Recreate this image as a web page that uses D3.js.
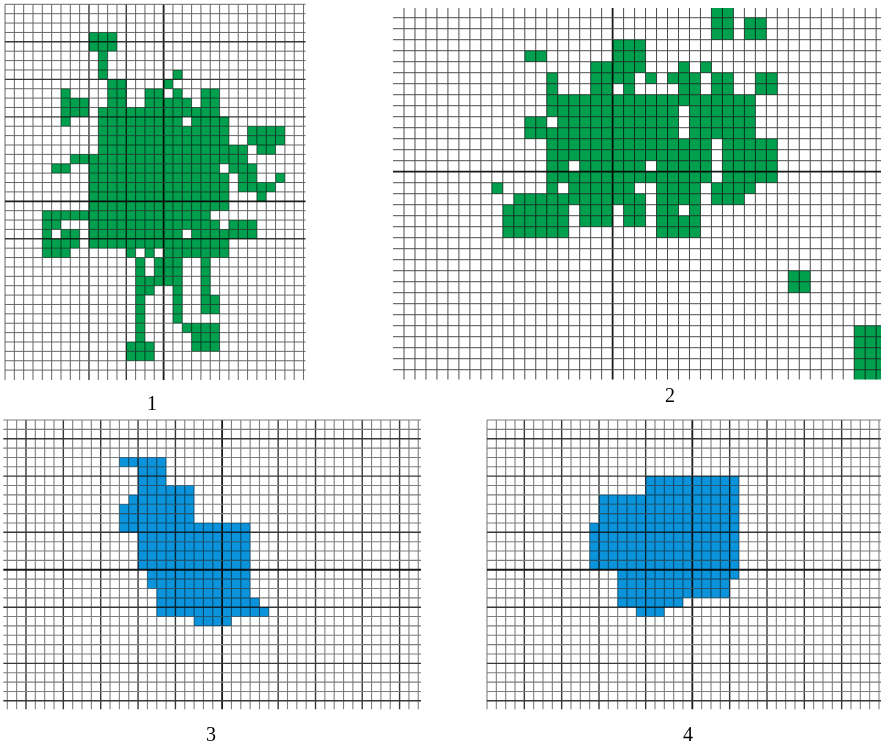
<html>

<head>
    <meta charset="utf-8">
    <title>grid</title>
    <style>
        body { margin: 0; background: #fff; }
    </style>
</head>

<body>
    <script src="https://cdn.jsdelivr.net/npm/d3@7/dist/d3.min.js"></script>
    <script>
        var width = 881;
        var height = 747;

        var labels = ["1", "2", "3", "4"];

        // filled cells, one entry per run: [row, firstCol, lastCol]
        var cells1 = [
            [3, 9, 11], [4, 9, 11], [5, 10, 10], [6, 10, 10], [7, 10, 10], [7, 18, 18],
            [8, 11, 12], [8, 17, 17],
            [9, 6, 6], [9, 11, 12], [9, 15, 16], [9, 18, 18], [9, 21, 22],
            [10, 6, 8], [10, 11, 12], [10, 15, 19], [10, 21, 22],
            [11, 6, 8], [11, 10, 22],
            [12, 6, 6], [12, 10, 18], [12, 20, 23],
            [13, 10, 23], [13, 26, 29], [14, 10, 23], [14, 26, 29],
            [15, 10, 25], [15, 27, 28],
            [16, 7, 25],
            [17, 5, 6], [17, 9, 22], [17, 24, 26],
            [18, 9, 23], [18, 25, 26], [18, 29, 29],
            [19, 9, 23], [19, 25, 28],
            [20, 9, 23], [20, 27, 27],
            [21, 9, 23],
            [22, 4, 21],
            [23, 4, 5], [23, 9, 22], [23, 24, 26],
            [24, 4, 4], [24, 6, 7], [24, 9, 18], [24, 20, 26],
            [25, 4, 7], [25, 9, 23],
            [26, 4, 6], [26, 13, 13], [26, 15, 15], [26, 17, 23],
            [27, 14, 14], [27, 16, 18], [27, 21, 21],
            [28, 14, 14], [28, 16, 18], [28, 21, 21],
            [29, 14, 18], [29, 21, 21],
            [30, 14, 15], [30, 18, 18], [30, 21, 21],
            [31, 14, 14], [31, 18, 18], [31, 21, 22],
            [32, 14, 14], [32, 18, 18], [32, 21, 22],
            [33, 14, 14], [33, 18, 18],
            [34, 14, 14], [34, 19, 22],
            [35, 14, 14], [35, 20, 22],
            [36, 13, 15], [36, 20, 22],
            [37, 13, 15]
        ];

        var cells2 = [
            [0, 29, 30],
            [1, 29, 30], [1, 32, 33],
            [2, 29, 30], [2, 32, 33],
            [3, 20, 22],
            [4, 12, 13], [4, 20, 22],
            [5, 18, 22], [5, 26, 26], [5, 28, 28],
            [6, 14, 14], [6, 18, 21], [6, 23, 23], [6, 25, 27], [6, 29, 30], [6, 33, 34],
            [7, 14, 14], [7, 18, 19], [7, 21, 21], [7, 26, 27], [7, 29, 30], [7, 33, 34],
            [8, 14, 32],
            [9, 14, 25], [9, 27, 32],
            [10, 12, 13], [10, 15, 25], [10, 27, 32],
            [11, 12, 25], [11, 27, 32],
            [12, 14, 28], [12, 30, 34],
            [13, 14, 28], [13, 30, 34],
            [14, 14, 15], [14, 17, 22], [14, 24, 28], [14, 30, 34],
            [15, 14, 28], [15, 30, 34],
            [16, 9, 9], [16, 14, 14], [16, 16, 21], [16, 24, 27], [16, 29, 32],
            [17, 11, 22], [17, 24, 27], [17, 29, 31],
            [18, 10, 15], [18, 17, 19], [18, 21, 22], [18, 24, 25], [18, 27, 27],
            [19, 10, 15], [19, 17, 19], [19, 21, 22], [19, 24, 27],
            [20, 10, 15], [20, 24, 27],
            [24, 36, 37], [25, 36, 37],
            [29, 42, 44], [30, 42, 44], [31, 42, 44], [32, 42, 44], [33, 42, 44]
        ];

        var cells3 = [
            [4, 12, 16], [5, 14, 16], [6, 14, 16],
            [7, 14, 19], [8, 13, 19], [9, 12, 19], [10, 12, 19],
            [11, 12, 25],
            [12, 14, 25], [13, 14, 25], [14, 14, 25], [15, 14, 25],
            [16, 15, 25], [17, 15, 25], [18, 16, 25],
            [19, 16, 26], [20, 16, 27],
            [21, 20, 23]
        ];

        var cells4 = [
            [6, 17, 26], [7, 17, 26],
            [8, 12, 26], [9, 12, 26], [10, 12, 26],
            [11, 11, 26], [12, 11, 26], [13, 11, 26], [14, 11, 26], [15, 11, 26],
            [16, 14, 26], [17, 14, 25], [18, 14, 25],
            [19, 14, 20],
            [20, 16, 18]
        ];

        // sheet layout
        var panels = [
            {
                cells: cells1, color: "#00a04e", x0: 5, y0: 4.3, cw: 9.33, ch: 9.38, cols: 32, rows: 39,
                vFrom: 0, vTo: 32, hFrom: 0, hTo: 39, lineTop: 4.3, lineBottom: 380, lineLeft: 5, lineRight: 305.5,
                clip: [5, 4.3, 305, 380], minor: "#666", minorW: 1,
                darkCols: [9, 13], darkRows: [4, 8, 12, 25], axisCol: 17, axisRow: 21,
                label: labels[0], lx: 152, ly: 410
            },
            {
                cells: cells2, color: "#00a04e", x0: 393.02, y0: 6.7, cw: 10.98, ch: 11, cols: 45, rows: 34,
                vFrom: 1, vTo: 44, hFrom: 1, hTo: 33, lineTop: 8, lineBottom: 379.5, lineLeft: 393, lineRight: 881,
                clip: [393, 8, 881, 379.5], minor: "#4e4e4e", minorW: 1,
                darkCols: [], darkRows: [], axisCol: 20, axisRow: 15,
                label: labels[1], lx: 670, ly: 402
            },
            {
                cells: cells3, color: "#0b94db", x0: 7.3, y0: 420, cw: 9.34, ch: 9.36, cols: 44, rows: 30,
                vFrom: 0, vTo: 44, hFrom: 0, hTo: 30, lineTop: 420, lineBottom: 709.3, lineLeft: 3.3, lineRight: 421,
                clip: [3, 420, 421, 709.3], minor: "#7e7e7e", minorW: 1.1,
                darkCols: [2, 6, 10, 14, 18, 29, 33, 38, 42], darkRows: [2, 6, 12, 20, 26, 30], axisCol: 23, axisRow: 16,
                label: labels[2], lx: 211, ly: 741
            },
            {
                cells: cells4, color: "#0b94db", x0: 487, y0: 420, cw: 9.333, ch: 9.36, cols: 42, rows: 30,
                vFrom: 0, vTo: 42, hFrom: 0, hTo: 30, lineTop: 420, lineBottom: 709.3, lineLeft: 487, lineRight: 881.5,
                clip: [487, 420, 881, 709.3], minor: "#7e7e7e", minorW: 1.1,
                darkCols: [4, 8, 12, 17, 26, 30, 34, 38], darkRows: [2, 6, 12, 20, 26, 30], axisCol: 22, axisRow: 16,
                label: labels[3], lx: 688, ly: 741
            }
        ];

        var svg = d3.select("body")
            .append("svg")
            .attr("width", width)
            .attr("height", height);

        svg.append("rect")
            .attr("width", width)
            .attr("height", height)
            .attr("fill", "#fff");

        panels.forEach(function (p, i) {
            var x = d3.scaleLinear().domain([0, p.cols]).range([p.x0, p.x0 + p.cols * p.cw]);
            var y = d3.scaleLinear().domain([0, p.rows]).range([p.y0, p.y0 + p.rows * p.ch]);

            var clipId = "clip" + i;
            svg.append("clipPath")
                .attr("id", clipId)
                .append("rect")
                .attr("x", p.clip[0])
                .attr("y", p.clip[1])
                .attr("width", p.clip[2] - p.clip[0])
                .attr("height", p.clip[3] - p.clip[1]);

            var g = svg.append("g");

            // coloured cells
            g.append("g")
                .attr("clip-path", "url(#" + clipId + ")")
                .selectAll("rect")
                .data(p.cells)
                .enter()
                .append("rect")
                .attr("x", function (d) { return x(d[1]); })
                .attr("y", function (d) { return y(d[0]); })
                .attr("width", function (d) { return x(d[2] + 1) - x(d[1]); })
                .attr("height", function (d) { return y(d[0] + 1) - y(d[0]); })
                .attr("fill", p.color);

            // grid lines, multiplied so they darken the fill
            var lines = g.append("g").style("mix-blend-mode", "multiply");

            function lineStyle(sel, dark, axis) {
                sel.attr("stroke", function (d) {
                    if (d === axis) return "#1a1a1a";
                    if (dark.indexOf(d) >= 0) return "#383838";
                    return p.minor;
                })
                    .attr("stroke-width", function (d) {
                        if (d === axis) return 1.8;
                        if (dark.indexOf(d) >= 0) return 1.4;
                        return p.minorW;
                    });
            }

            lines.selectAll(".v")
                .data(d3.range(p.vFrom, p.vTo + 1))
                .enter()
                .append("line")
                .attr("class", "v")
                .attr("x1", function (d) { return x(d); })
                .attr("x2", function (d) { return x(d); })
                .attr("y1", p.lineTop)
                .attr("y2", p.lineBottom)
                .call(lineStyle, p.darkCols, p.axisCol);

            lines.selectAll(".h")
                .data(d3.range(p.hFrom, p.hTo + 1))
                .enter()
                .append("line")
                .attr("class", "h")
                .attr("y1", function (d) { return y(d); })
                .attr("y2", function (d) { return y(d); })
                .attr("x1", p.lineLeft)
                .attr("x2", p.lineRight)
                .call(lineStyle, p.darkRows, p.axisRow);

            svg.append("text")
                .attr("x", p.lx)
                .attr("y", p.ly)
                .attr("text-anchor", "middle")
                .attr("font-family", "'Liberation Serif', 'DejaVu Serif', serif")
                .attr("font-size", 20)
                .attr("fill", "#000")
                .text(p.label);
        });
    </script>
</body>

</html>
